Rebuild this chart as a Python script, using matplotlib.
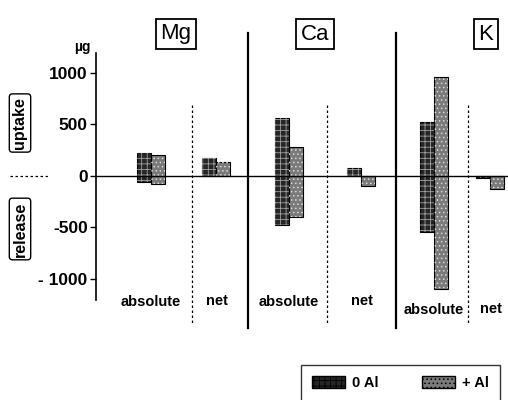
import numpy as np
import matplotlib.pyplot as plt
from matplotlib.patches import Patch

elements = ['Mg', 'Ca', 'K']
uptake_0al = [223, 563, 524]
release_0al = [-55, -480, -544]
uptake_al = [204, 282, 961]
release_al = [-80, -398, -1097]
net_0al = [175, 78, -20]
net_al = [136, -100, -125]
yticks = [-1000, -500, 0, 500, 1000]
ytick_labels = ['- 1000', '-500', '0', '500', '1000']

W, H = 508, 400
plt.rcParams['font.family'] = ['Liberation Sans', 'DejaVu Sans']
plt.rcParams['font.weight'] = 'bold'
plt.rcParams['hatch.linewidth'] = 0.6

fig = plt.figure(figsize=(W / 100, H / 100), dpi=100)
# axis in pixel-like x units, y in ug
ax = fig.add_axes([96 / W, 1 - 300 / H, 1 - 96 / W, 247 / H])
ax.set_xlim(96, 508)
ax.set_ylim(-1204, 1194)

# group layout (pixel x)
abs_x = np.array([151, 289, 434])
net_x = np.array([216, 361, 490])
bw = 14
dark = '#262626'
grey = '#7a7a7a'
dark_h = '#a0a0a0'
grey_h = '#d8d8d8'


def hbar(x, bottom, height, fc, hatch, hc):
    ax.bar(x, height, bw, bottom=bottom, color=fc, edgecolor='black',
           linewidth=0.8, zorder=3)
    ax.bar(x, height, bw, bottom=bottom, color='none', edgecolor=hc,
           hatch=hatch, linewidth=0, zorder=4)


lo0 = np.array(release_0al)
hi0 = np.array(uptake_0al)
loA = np.array(release_al)
hiA = np.array(uptake_al)
hbar(abs_x - bw / 2, lo0, hi0 - lo0, dark, '+++', dark_h)
hbar(abs_x + bw / 2, loA, hiA - loA, grey, '....', grey_h)
hbar(net_x - bw / 2, 0, np.array(net_0al), dark, '+++', dark_h)
hbar(net_x + bw / 2, 0, np.array(net_al), grey, '....', grey_h)

ax.axhline(0, color='black', lw=1.0, zorder=5)

for s in ['top', 'right', 'bottom']:
    ax.spines[s].set_visible(False)
ax.spines['left'].set_linewidth(1.2)
ax.set_xticks([])
ax.set_yticks(yticks)
ax.set_yticklabels(ytick_labels, fontsize=12.5)
ax.tick_params(axis='y', direction='out', length=4, width=1, pad=2)


def py(p):
    return (176 - p) / 0.103


for x in [248, 396]:
    ax.plot([x, x], [py(33), py(328)], color='black', lw=1.6, clip_on=False)
for x in [192, 327, 468]:
    ax.plot([x, x], [py(105), py(325)], color='black', lw=0.9, ls=(0, (2, 2)),
            clip_on=False)

for i, el in enumerate(elements):
    ty = 302 if i < 2 else 310
    ax.text(abs_x[i], py(ty), 'absolute', ha='center', va='center', fontsize=10.5)
    ax.text(net_x[i] + 1, py(ty - 1), 'net', ha='center', va='center', fontsize=10.5)

box_x = [176, 315, 486]
for el, bx in zip(elements, box_x):
    fig.text(bx / W, 1 - 34 / H, el, ha='center', va='center', fontsize=16,
             weight='normal',
             bbox=dict(boxstyle='square,pad=0.22', fc='white', ec='black', lw=1.3))

fig.text(82 / W, 1 - 47 / H, 'µg', ha='center', va='center', fontsize=10)
fig.text(20 / W, 1 - 123 / H, 'uptake', rotation=90, ha='center', va='center',
         fontsize=11.5, bbox=dict(boxstyle='round,pad=0.2', fc='white', ec='black', lw=1))
fig.text(20 / W, 1 - 229 / H, 'release', rotation=90, ha='center', va='center',
         fontsize=11.5, bbox=dict(boxstyle='round,pad=0.2', fc='white', ec='black', lw=1))
fig.lines.append(plt.Line2D([10 / W, 50 / W], [1 - 176 / H, 1 - 176 / H],
                            transform=fig.transFigure, color='black', lw=0.9,
                            ls=(0, (2, 2))))

handles = [Patch(fc=dark, ec='black', hatch='+++', label='0 Al'),
           Patch(fc=grey, ec='black', hatch='....', label='+ Al')]
leg = fig.legend(handles=handles, ncol=2, loc='upper left',
                 bbox_to_anchor=(301 / W, 1 - 365 / H), borderaxespad=0,
                 fontsize=10.5, frameon=True, fancybox=False,
                 edgecolor='black', handlelength=2.25, handleheight=0.85,
                 columnspacing=3.0, borderpad=0.75, handletextpad=0.5)
leg.get_frame().set_linewidth(1.0)

fig.savefig('out.png', dpi=100)
